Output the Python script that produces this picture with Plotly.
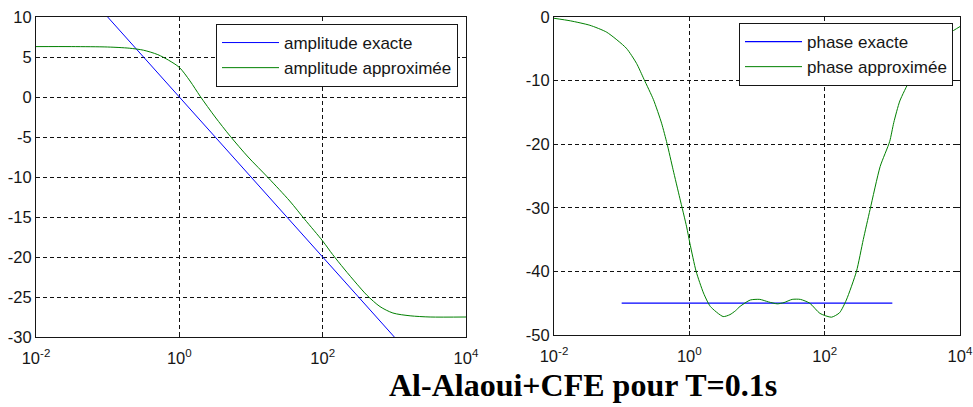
import plotly.graph_objects as go

# ---------------- data ----------------
# amplitude (dB) vs pulsation (rad/s)
w_amp_exact = [0.1, 1, 10, 100, 1000]
amp_exact = [10, 0, -10, -20, -30]

w_amp_approx = [0.01, 0.0316, 0.1, 0.2, 0.316, 0.5, 0.708, 1.0, 1.41, 1.95, 3.16, 5.13,
                9.12, 17.4, 34.7, 56.2, 100, 138, 200, 302, 417, 631, 955, 1660, 3160,
                10000]
amp_approx = [6.3, 6.3, 6.25, 6.1, 5.85, 5.3, 4.6, 3.7, 2.0, 0.1, -2.5, -4.9, -7.5, -10.1,
              -13.0, -15.3, -18.0, -19.7, -21.5, -23.4, -24.8, -26.2, -27.0, -27.35,
              -27.5, -27.5]

w_ph_exact = [0.1, 1000]
ph_exact = [-45, -45]

w_ph_approx = [0.01, 0.0174, 0.0339, 0.0603, 0.117, 0.166, 0.214, 0.295, 0.389, 0.468,
               0.575, 0.724, 0.912, 1.02, 1.26, 1.62, 2.04, 3.16, 3.98, 4.79, 5.62,
               7.94, 11.0, 14.8, 20.0, 25.1, 33.1, 43.7, 60.3, 85.1, 126, 166, 209,
               295, 372, 468, 661, 912, 1050, 1290, 1820, 2820, 4470, 7080, 10000]
ph_approx = [-0.2, -0.6, -1.3, -2.4, -4.9, -7.3, -9.8, -13, -16.7, -19.9, -24, -28.5,
             -33, -35.6, -40, -43.4, -45.5, -47.1, -46.8, -46.2, -45.5, -44.5, -44.4,
             -44.8, -45.1, -44.9, -44.4, -44.4, -45, -46.6, -47.2, -46.5, -44.5, -40,
             -35, -30.3, -23.5, -19.6, -16.6, -13.2, -9.9, -6.5, -4.2, -2.5, -1.5]

x_tickvals = [0.01, 1, 100, 10000]
x_ticktext = ["10<sup>-2</sup>", "10<sup>0</sup>", "10<sup>2</sup>", "10<sup>4</sup>"]
amp_ticks = [10, 5, 0, -5, -10, -15, -20, -25, -30]
amp_ticktext = ["10", "5", "0", "-5", "-10", "-15", "-20", "-25", "-30"]
ph_ticks = [0, -10, -20, -30, -40, -50]
ph_ticktext = ["0", "-10", "-20", "-30", "-40", "-50"]

title_text = "Al-Alaoui+CFE pour T=0.1s"

# ---------------- figure ----------------
W, H = 973, 407
BLUE = "#0000ff"
GREEN = "#008000"
FONT = "Liberation Sans, Arial, sans-serif"
INK = "#161616"

fig = go.Figure()
fig.add_trace(go.Scatter(x=w_amp_exact, y=amp_exact, mode="lines", name="amplitude exacte",
                         line=dict(color=BLUE, width=1), xaxis="x", yaxis="y", legend="legend"))
fig.add_trace(go.Scatter(x=w_amp_approx, y=amp_approx, mode="lines", name="amplitude approximée",
                         line=dict(color=GREEN, width=1, shape="spline", smoothing=0.8),
                         xaxis="x", yaxis="y", legend="legend"))
fig.add_trace(go.Scatter(x=w_ph_exact, y=ph_exact, mode="lines", name="phase exacte",
                         line=dict(color=BLUE, width=1.3), xaxis="x2", yaxis="y2", legend="legend2"))
fig.add_trace(go.Scatter(x=w_ph_approx, y=ph_approx, mode="lines", name="phase approximée",
                         line=dict(color=GREEN, width=1, shape="spline", smoothing=0.6),
                         xaxis="x2", yaxis="y2", legend="legend2"))


def px_x(p):
    return p / W


def px_y(p):
    return 1 - p / H


axis_common = dict(
    showline=True, linecolor=INK, linewidth=1, mirror="ticks",
    ticks="inside", ticklen=4, tickcolor=INK, automargin=False,
    showgrid=True, gridcolor="#111111", gridwidth=1, griddash="4px,3px",
    zeroline=False, tickfont=dict(family=FONT, size=16.5, color=INK),
)

legend_common = dict(xanchor="right", yanchor="top", bgcolor="white",
                     bordercolor=INK, borderwidth=1,
                     font=dict(family=FONT, size=17, color=INK),
                     itemwidth=57, tracegroupgap=0)

fig.update_layout(
    width=W, height=H,
    margin=dict(l=0, r=0, t=0, b=0),
    paper_bgcolor="white", plot_bgcolor="white",
    showlegend=True,
    xaxis=dict(type="log", range=[-2, 4], domain=[px_x(36), px_x(466)],
               tickvals=x_tickvals, ticktext=x_ticktext, anchor="y",
               ticklabelstandoff=6, **axis_common),
    yaxis=dict(range=[-30, 10], domain=[px_y(337), px_y(17)],
               tickvals=amp_ticks, ticktext=amp_ticktext, anchor="x", **axis_common),
    xaxis2=dict(type="log", range=[-2, 4], domain=[px_x(554), px_x(960)],
                tickvals=x_tickvals, ticktext=x_ticktext, anchor="y2",
                ticklabelstandoff=6, **axis_common),
    yaxis2=dict(range=[-50, 0], domain=[px_y(335), px_y(17)],
                tickvals=ph_ticks, ticktext=ph_ticktext, anchor="x2", **axis_common),
    legend=dict(x=px_x(458), y=px_y(24), **legend_common),
    legend2=dict(x=px_x(953), y=px_y(23), **legend_common),
    annotations=[dict(text="<b>" + title_text + "</b>", xref="paper", yref="paper",
                      x=px_x(583), y=0, xanchor="center", yanchor="bottom",
                      yshift=2, showarrow=False,
                      font=dict(family="Liberation Serif, Times New Roman, serif",
                                size=32, color="black"))],
)

fig.write_html("out.html")
